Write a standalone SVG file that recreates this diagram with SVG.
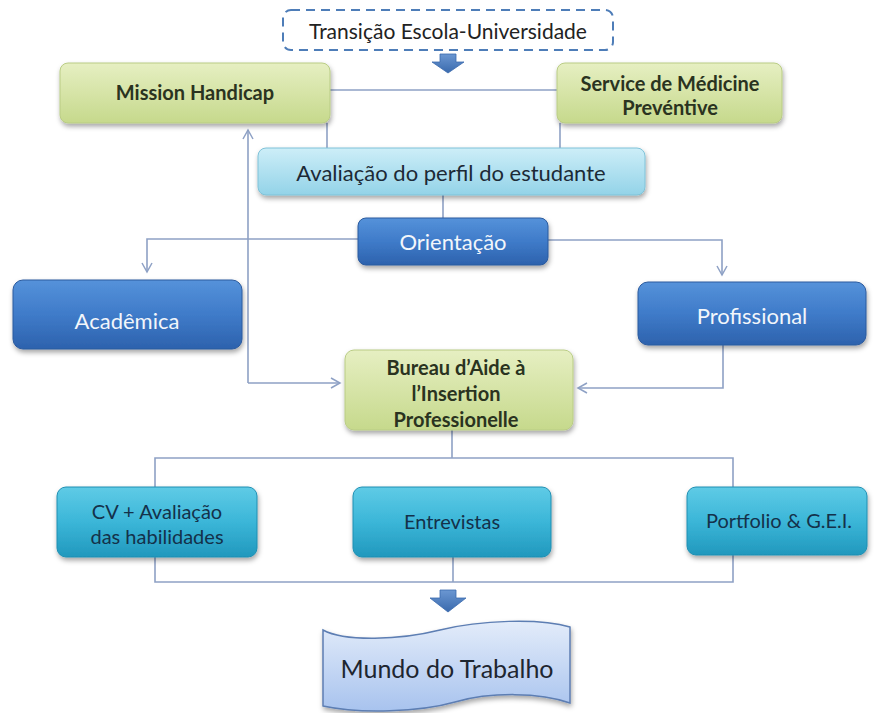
<svg xmlns="http://www.w3.org/2000/svg" width="876" height="713" viewBox="0 0 876 713">
<defs>
<linearGradient id="gGreen" x1="0" y1="0" x2="0" y2="1"><stop offset="0" stop-color="#e6efc2"/><stop offset="1" stop-color="#c6d98c"/></linearGradient>
<linearGradient id="gCyan" x1="0" y1="0" x2="0" y2="1"><stop offset="0" stop-color="#cdeef8"/><stop offset="1" stop-color="#93d3e8"/></linearGradient>
<linearGradient id="gBlue" x1="0" y1="0" x2="0" y2="1"><stop offset="0" stop-color="#5592da"/><stop offset="0.5" stop-color="#3f7bc9"/><stop offset="1" stop-color="#2d62ad"/></linearGradient>
<linearGradient id="gTeal" x1="0" y1="0" x2="0" y2="1"><stop offset="0" stop-color="#5fcbe6"/><stop offset="0.5" stop-color="#3bb6d8"/><stop offset="1" stop-color="#2198bd"/></linearGradient>
<linearGradient id="gWave" x1="0" y1="0" x2="0" y2="1"><stop offset="0" stop-color="#e3ecfa"/><stop offset="1" stop-color="#a8c3ee"/></linearGradient>
<linearGradient id="gArrow" x1="0" y1="0" x2="0" y2="1"><stop offset="0" stop-color="#6b97d2"/><stop offset="1" stop-color="#3a6aad"/></linearGradient>
<filter id="sh" x="-10%" y="-20%" width="120%" height="150%"><feDropShadow dx="1" dy="3" stdDeviation="2.5" flood-color="#000" flood-opacity="0.35"/></filter>
<marker id="ah" markerWidth="12" markerHeight="12" refX="10" refY="6" orient="auto" markerUnits="userSpaceOnUse"><path d="M1,1 L10,6 L1,11" fill="none" stroke="#8ea1c5" stroke-width="1.5"/></marker>
</defs>
<style>
.conn{fill:none;stroke:#8ea1c5;stroke-width:1.6}
.green{fill:url(#gGreen);stroke:#b9cc84;stroke-width:1;filter:url(#sh)}
.cyan{fill:url(#gCyan);stroke:#7fc2d8;stroke-width:1;filter:url(#sh)}
.blue{fill:url(#gBlue);stroke:#2a5a9e;stroke-width:1;filter:url(#sh)}
.teal{fill:url(#gTeal);stroke:#1f8fb2;stroke-width:1;filter:url(#sh)}
text{font-family:Lato,"Open Sans","Liberation Sans",sans-serif;text-anchor:middle;dominant-baseline:central}
.tg{font-size:20px;font-weight:bold;fill:#2a3320}
.tc{font-size:22px;fill:#1c2a36}
.tw{font-size:22px;fill:#f2f6fb}
.tt{font-size:20px;fill:#14314a}
</style>
<rect width="876" height="713" fill="#ffffff"/>
<g id="connectors">
<path class="conn" d="M330,90 H557"/>
<path class="conn" d="M327,123 V148"/>
<path class="conn" d="M560,123 V148"/>
<path class="conn" d="M443,195 V218"/>
<path class="conn" d="M358,239 H147 V272" marker-end="url(#ah)"/>
<path class="conn" d="M548,240 H722 V275" marker-end="url(#ah)"/>
<path class="conn" d="M248,383 V130" marker-end="url(#ah)"/>
<path class="conn" d="M248,383 H340" marker-end="url(#ah)"/>
<path class="conn" d="M723,345 V388 H578" marker-end="url(#ah)"/>
<path class="conn" d="M452,430 V458"/>
<path class="conn" d="M155,458 H733 V582 H155 Z"/>
<path class="conn" d="M453,557 V582"/>
</g>
<g id="transicao">
<rect x="283" y="10" width="330" height="40" rx="8" fill="#ffffff" stroke="#4e7db8" stroke-width="2" stroke-dasharray="9,6"/>
<text x="448" y="30" style="font-size:21px;fill:#222">Transição Escola-Universidade</text>
</g>
<g id="arrow1">
<path d="M440,54 H456 V62 H464 L448,73 L432,62 H440 Z" fill="url(#gArrow)" stroke="#3a6aad" stroke-width="0.8"/>
</g>
<g id="mission">
<rect class="green" x="60" y="63" width="270" height="60" rx="8"/>
<text class="tg" x="195" y="92">Mission Handicap</text>
</g>
<g id="service">
<rect class="green" x="557" y="63" width="225" height="60" rx="8"/>
<text class="tg" x="670" y="83">Service de Médicine</text>
<text class="tg" x="670" y="107">Prevéntive</text>
</g>
<g id="avaliacao">
<rect class="cyan" x="258" y="148" width="387" height="47" rx="8"/>
<text class="tc" x="451" y="172">Avaliação do perfil do estudante</text>
</g>
<g id="orientacao">
<rect class="blue" x="358" y="218" width="190" height="47" rx="8"/>
<text class="tw" x="453" y="241">Orientação</text>
</g>
<g id="academica">
<rect class="blue" x="13" y="280" width="229" height="69" rx="10"/>
<text class="tw" x="127" y="320">Acadêmica</text>
</g>
<g id="profissional">
<rect class="blue" x="638" y="282" width="228" height="63" rx="10"/>
<text class="tw" x="752" y="315">Profissional</text>
</g>
<g id="bureau">
<rect class="green" x="345" y="350" width="228" height="80" rx="9"/>
<text class="tg" x="456" y="367">Bureau d’Aide à</text>
<text class="tg" x="456" y="393">l’Insertion</text>
<text class="tg" x="456" y="419">Professionelle</text>
</g>
<g id="cv">
<rect class="teal" x="57" y="487" width="200" height="70" rx="9"/>
<text class="tt" x="157" y="511">CV + Avaliação</text>
<text class="tt" x="157" y="536">das habilidades</text>
</g>
<g id="entrevistas">
<rect class="teal" x="353" y="487" width="198" height="70" rx="9"/>
<text class="tt" x="452" y="521">Entrevistas</text>
</g>
<g id="portfolio">
<rect class="teal" x="687" y="487" width="180" height="68" rx="9"/>
<text class="tt" x="779" y="520">Portfolio &amp; G.E.I.</text>
</g>
<g id="arrow2">
<path d="M440,590 H456 V598 H466 L448,612 L430,598 H440 Z" fill="url(#gArrow)" stroke="#3a6aad" stroke-width="0.8"/>
</g>
<g id="mundo">
<path d="M323,630 C345,642 400,640 440,630 C480,620 540,618 570,627 L570,703 C540,692 490,692 455,702 C420,712 360,714 323,706 Z" fill="url(#gWave)" stroke="#5d7eb3" stroke-width="1.5" filter="url(#sh)"/>
<text x="447" y="668" style="font-size:25px;fill:#1e2630">Mundo do Trabalho</text>
</g>
</svg>
